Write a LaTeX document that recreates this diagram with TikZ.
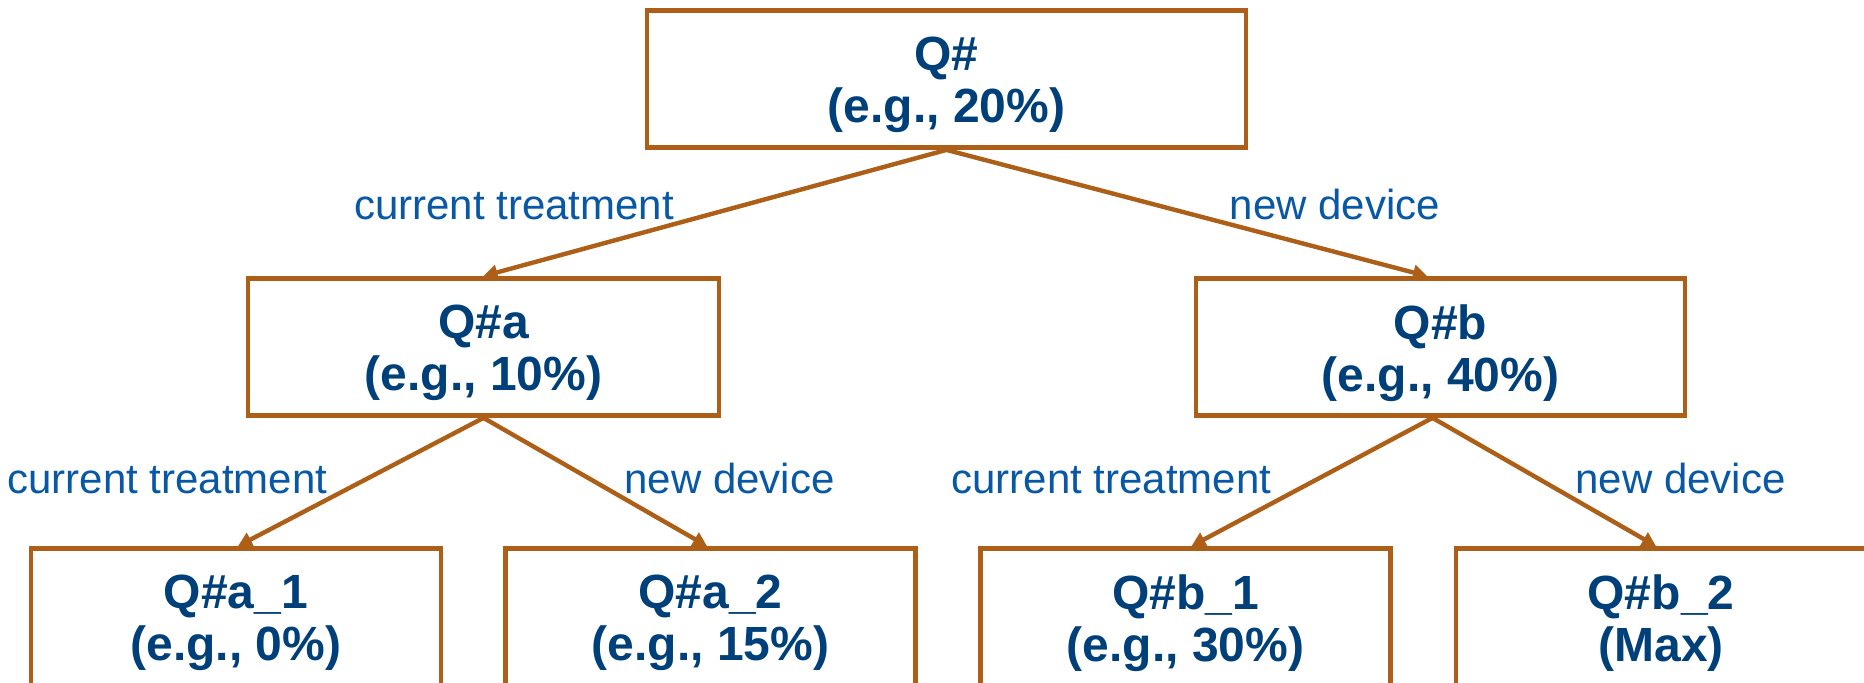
\documentclass[tikz,border=0pt]{standalone}
\usepackage{fontspec}
\setmainfont{Liberation Sans}
\usetikzlibrary{arrows.meta}
\definecolor{edgebrown}{RGB}{173,94,23}
\definecolor{boxblue}{RGB}{0,64,122}
\definecolor{tagblue}{RGB}{8,88,165}
\begin{document}
\begin{tikzpicture}[x=0.5pt,y=-0.5pt,
  qbox/.style={draw=edgebrown, line width=2.4pt, fill=white, minimum height=68.5pt,
    inner sep=0pt},
  qtext/.style={inner sep=0pt, align=center, text=boxblue,
    font=\fontsize{24}{25.9}\selectfont\bfseries},
  link/.style={draw=edgebrown, line width=2.2pt, -{Triangle[length=7pt,width=7.5pt]}},
  tag/.style={anchor=base, inner sep=0pt, text=tagblue,
    font=\fontsize{21}{25}\selectfont}]
\clip (0,0) rectangle (1864,683);
\fill[white] (0,0) rectangle (1864,683);

% decision tree boxes
\node[qbox, minimum width=299.5pt] (q)   at (946.5,79)   {};
\node[qbox, minimum width=235.5pt] (qa)  at (483.5,347)  {};
\node[qbox, minimum width=244.5pt] (qb)  at (1440.5,347) {};
\node[qbox, minimum width=205pt]   (qa1) at (236,617)    {};
\node[qbox, minimum width=205pt]   (qa2) at (710.5,617)  {};
\node[qbox, minimum width=205pt]   (qb1) at (1185.5,617) {};
\node[qbox, minimum width=205pt]   (qb2) at (1661,617)   {};

% box contents
\node[qtext] (qT)   at ([yshift=-3pt]q.center)   {Q\#\\(e.g., 20\%)};
\node[qtext] (qaT)  at ([yshift=-3pt]qa.center)  {Q\#a\\(e.g., 10\%)};
\node[qtext] (qbT)  at ([yshift=-3pt]qb.center)  {Q\#b\\(e.g., 40\%)};
\node[qtext] (qa1T) at ([yshift=-3pt]qa1.center) {Q\#a\_1\\(e.g., 0\%)};
\node[qtext] (qa2T) at ([yshift=-3pt]qa2.center) {Q\#a\_2\\(e.g., 15\%)};
\node[qtext] (qb1T) at ([yshift=-3pt]qb1.center) {Q\#b\_1\\(e.g., 30\%)};
\node[qtext] (qb2T) at ([yshift=-3pt]qb2.center) {Q\#b\_2\\(Max)};

% branches
\draw[link] (q.south) -- (qa.north);
\draw[link] (q.south) -- ([xshift=-6.75pt]qb.north);
\draw[link] (qa.south) -- ([xshift=1pt]qa1.north);
\draw[link] (qa.south) -- ([xshift=-1.75pt]qa2.north);
\draw[link] ([xshift=-4pt]qb.south) -- ([xshift=3pt]qb1.north);
\draw[link] ([xshift=-4pt]qb.south) -- ([xshift=-2.5pt]qb2.north);

% branch labels
\node[tag] (t1) at (514,220)    {current treatment};
\node[tag] (t2) at (1335,220)   {new device};
\node[tag] (t3) at (167.5,494)  {current treatment};
\node[tag] (t4) at (729.5,494)  {new device};
\node[tag] (t5) at (1111.5,494) {current treatment};
\node[tag] (t6) at (1680.5,494) {new device};
\end{tikzpicture}
\end{document}
